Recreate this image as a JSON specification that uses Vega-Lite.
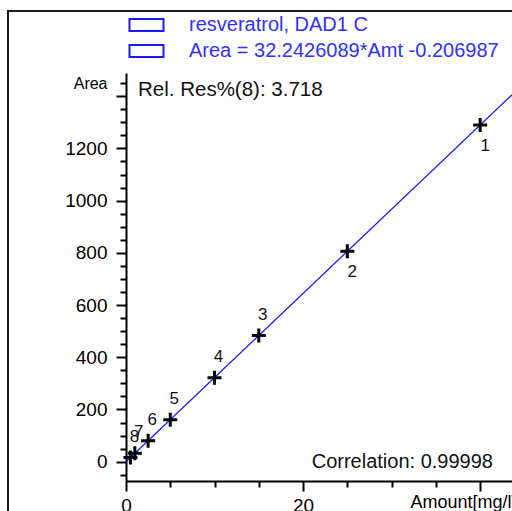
{
  "$schema": "https://vega.github.io/schema/vega-lite/v6.json",
  "autosize": {"type": "none"},
  "padding": {"left": 126, "top": 73, "right": 0, "bottom": 30},
  "width": 386,
  "height": 408,
  "background": "white",
  "config": {"view": {"stroke": null}, "font": "Liberation Sans"},
  "resolve": {"axis": {"x": "independent", "y": "independent"}},
  "datasets": {
    "cal": [
      {"level": 1, "amount": 40, "area": 1290},
      {"level": 2, "amount": 25, "area": 806},
      {"level": 3, "amount": 15, "area": 483},
      {"level": 4, "amount": 10, "area": 322},
      {"level": 5, "amount": 5, "area": 161},
      {"level": 6, "amount": 2.5, "area": 80},
      {"level": 7, "amount": 1, "area": 32},
      {"level": 8, "amount": 0.5, "area": 16}
    ],
    "fit": [
      {"amount": 0, "area": -0.207},
      {"amount": 43.6, "area": 1405.6}
    ]
  },
  "layer": [
    {
      "data": {"values": [{"f": 1}]},
      "mark": {"type": "rect", "filled": false, "color": "#1a1a1a", "strokeWidth": 2},
      "encoding": {
        "x": {"datum": -13.33, "type": "quantitative", "axis": null},
        "x2": {"datum": 80},
        "y": {"datum": 1726.5, "type": "quantitative", "axis": null},
        "y2": {"datum": -700}
      }
    },
    {
      "data": {"name": "cal"},
      "encoding": {
        "x": {
          "field": "amount",
          "type": "quantitative",
          "scale": {"domain": [0, 43.6], "nice": false, "zero": false},
          "axis": {
            "title": "Amount[mg/l]",
            "titleFont": "Liberation Sans",
            "titleFontSize": 18,
            "titleFontWeight": "normal",
            "titleColor": "black",
            "titleAlign": "right",
            "titleBaseline": "middle",
            "titleAnchor": "end",
            "titleX": 390,
            "titleY": 21,
            "values": [0, 5, 10, 15, 20, 25, 30, 35, 40],
            "labelExpr": "datum.value === 0 || datum.value === 20 ? datum.label : ''",
            "tickSize": {"condition": {"test": "datum.value % 20 === 0", "value": 10}, "value": 6},
            "tickWidth": 2,
            "tickColor": "black",
            "domainColor": "black",
            "domainWidth": 2,
            "labelFontSize": 19,
            "labelColor": "black",
            "labelPadding": 5,
            "labelFlush": false,
            "labelOverlap": false,
            "grid": false
          }
        },
        "y": {
          "field": "area",
          "type": "quantitative",
          "scale": {"domain": [-74, 1489], "nice": false, "zero": false},
          "axis": {
            "title": "Area",
            "titleFont": "Liberation Sans",
            "titleFontSize": 16,
            "titleFontWeight": "normal",
            "titleColor": "black",
            "titleAngle": 0,
            "titleAlign": "right",
            "titleBaseline": "middle",
            "titleX": -19,
            "titleY": 10,
            "values": [-50, 0, 50, 100, 150, 200, 250, 300, 350, 400, 450, 500, 550, 600, 650, 700, 750, 800, 850, 900, 950, 1000, 1050, 1100, 1150, 1200, 1250, 1300, 1350, 1400, 1450],
            "labelExpr": "datum.value % 200 === 0 && datum.value >= 0 && datum.value <= 1200 ? datum.label : ''",
            "format": "d",
            "tickSize": {"condition": {"test": "datum.value % 200 === 0", "value": 10}, "value": 6},
            "tickWidth": 2,
            "tickColor": "black",
            "domainColor": "black",
            "domainWidth": 2,
            "labelFontSize": 19,
            "labelColor": "black",
            "labelPadding": 9,
            "labelOverlap": false,
            "grid": false
          }
        }
      },
      "layer": [
        {
          "data": {"name": "fit"},
          "mark": {"type": "line", "strokeWidth": 1.3},
          "encoding": {
            "color": {
              "datum": "resveratrol, DAD1 C",
              "type": "nominal",
              "scale": {"domain": ["resveratrol, DAD1 C", "Area = 32.2426089*Amt -0.206987"], "range": ["#1a1aff", "#1a1aff"]},
              "legend": {
                "title": null,
                "orient": "none",
                "legendX": 10.5,
                "legendY": -58,
                "padding": 0,
                "symbolType": "M-2,-0.7H2V0.7H-2Z",
                "symbolSize": 289,
                "symbolStrokeWidth": 2,
                "symbolStrokeColor": "#1a1aff",
                "symbolFillColor": "transparent",
                "labelOffset": 32.5,
                "rowPadding": 6,
                "labelFont": "Liberation Sans",
                "labelFontSize": 20,
                "labelColor": "#3030ff",
                "labelLimit": 0
              }
            }
          }
        },
        {
          "mark": {"type": "point", "shape": "M-1,0H1M0,-1V1", "filled": false, "color": "black", "strokeWidth": 3, "size": 196, "opacity": 1}
        },
        {
          "transform": [{"filter": "datum.level > 2"}],
          "mark": {"type": "text", "fontSize": 17, "color": "#111", "dx": 4, "dy": -21, "align": "center", "baseline": "middle"},
          "encoding": {"text": {"field": "level", "type": "nominal"}}
        },
        {
          "transform": [{"filter": "datum.level <= 2"}],
          "mark": {"type": "text", "fontSize": 17, "color": "#111", "dx": 5, "dy": 21, "align": "center", "baseline": "middle"},
          "encoding": {"text": {"field": "level", "type": "nominal"}}
        }
      ]
    },
    {
      "data": {"values": [{"t": "Rel. Res%(8): 3.718"}]},
      "mark": {"type": "text", "fontSize": 20.5, "color": "#111", "align": "left", "baseline": "middle"},
      "encoding": {
        "x": {"datum": 1.36, "type": "quantitative", "axis": null},
        "y": {"datum": 1424, "type": "quantitative", "axis": null},
        "text": {"field": "t"}
      }
    },
    {
      "data": {"values": [{"t": "Correlation: 0.99998"}]},
      "mark": {"type": "text", "fontSize": 20, "color": "#111", "align": "right", "baseline": "middle"},
      "encoding": {
        "x": {"datum": 41.45, "type": "quantitative", "axis": null},
        "y": {"datum": -1, "type": "quantitative", "axis": null},
        "text": {"field": "t"}
      }
    }
  ]
}
